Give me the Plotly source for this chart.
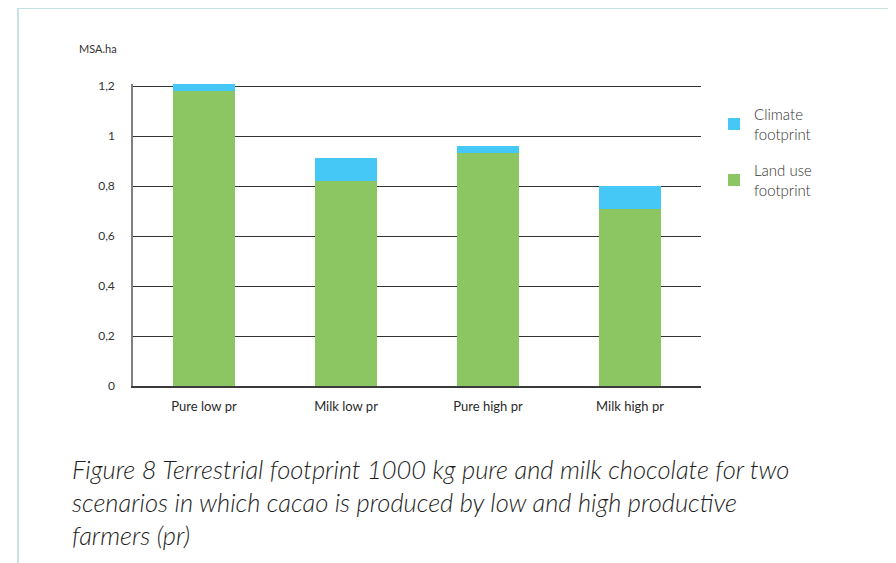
import plotly.graph_objects as go

categories = ["Pure low pr", "Milk low pr", "Pure high pr", "Milk high pr"]
land_use = [1.179, 0.82, 0.931, 0.708]
climate = [0.029, 0.092, 0.029, 0.092]
y_ticks = [0, 0.2, 0.4, 0.6, 0.8, 1, 1.2]
y_tick_labels = ["0", "0,2", "0,4", "0,6", "0,8", "1", "1,2"]

FONT = "Lato"
OFF = 8  # page body margin
W, H = 896, 563
L, R, T, B = 133 - OFF, 195 + OFF, 84 - OFF, 177 + OFF
PW, PH = W - L - R, H - T - B

def px(x):
    return (x - OFF - L) / PW

def py(y):
    return (H - B - (y - OFF)) / PH

fig = go.Figure()
fig.add_trace(go.Bar(
    x=categories, y=land_use, name="Land use<br>footprint",
    marker=dict(color="#8cc663", line=dict(width=0)), width=0.43,
    legendgroup="land", legendrank=2, hoverinfo="skip",
))
fig.add_trace(go.Bar(
    x=categories, y=climate, name="Climate<br>footprint",
    marker=dict(color="#45c8f5", line=dict(width=0)), width=0.43,
    legendgroup="climate", legendrank=1, hoverinfo="skip",
))

fig.update_layout(
    width=W, height=H,
    margin=dict(l=L, r=R, t=T, b=B, pad=0),
    barmode="stack",
    plot_bgcolor="white", paper_bgcolor="white",
    font=dict(family=FONT, color="#333333"),
    legend=dict(
        x=px(714), y=py(98), xanchor="left", yanchor="top",
        traceorder="grouped", tracegroupgap=14,
        font=dict(family=FONT, size=15, color="#333333", weight=300),
        itemwidth=30, bgcolor="rgba(0,0,0,0)",
    ),
    xaxis=dict(
        showgrid=False, showline=True, linecolor="#3a3a3a", linewidth=1.5,
        ticks="", tickfont=dict(family=FONT, size=13, color="#2a2a2a", weight=400),
        ticklabelstandoff=8, fixedrange=True,
    ),
    yaxis=dict(
        range=[0, 1.208], tickvals=y_ticks, ticktext=y_tick_labels,
        showgrid=True, gridcolor="#333333", gridwidth=1,
        zeroline=False, showline=True, linecolor="#808080", linewidth=1.5,
        ticks="", tickfont=dict(family=FONT, size=12, color="#333333", weight=400),
        ticklabelstandoff=14, fixedrange=True,
    ),
    shapes=[dict(
        type="rect", xref="paper", yref="paper",
        x0=px(18), x1=px(894.5), y0=py(640), y1=py(8),
        line=dict(color="#c6e3e3", width=2), fillcolor="rgba(0,0,0,0)",
        layer="below",
    )],
    annotations=[
        dict(text="MSA.ha", xref="paper", yref="paper", x=px(77), y=py(49),
             xanchor="left", yanchor="middle", showarrow=False,
             font=dict(family=FONT, size=11, color="#333333", weight=400)),
        dict(text="<i>Figure 8 Terrestrial footprint 1000 kg pure and milk chocolate for two<br>"
                  "scenarios in which cacao is produced by low and high productive<br>"
                  "farmers (pr)</i>",
             xref="paper", yref="paper", x=px(70), y=py(452),
             xanchor="left", yanchor="top", align="left", showarrow=False,
             font=dict(family=FONT, size=25.5, color="#1e1e1e", weight=300)),
    ],
)

fig.write_html("out.html")
